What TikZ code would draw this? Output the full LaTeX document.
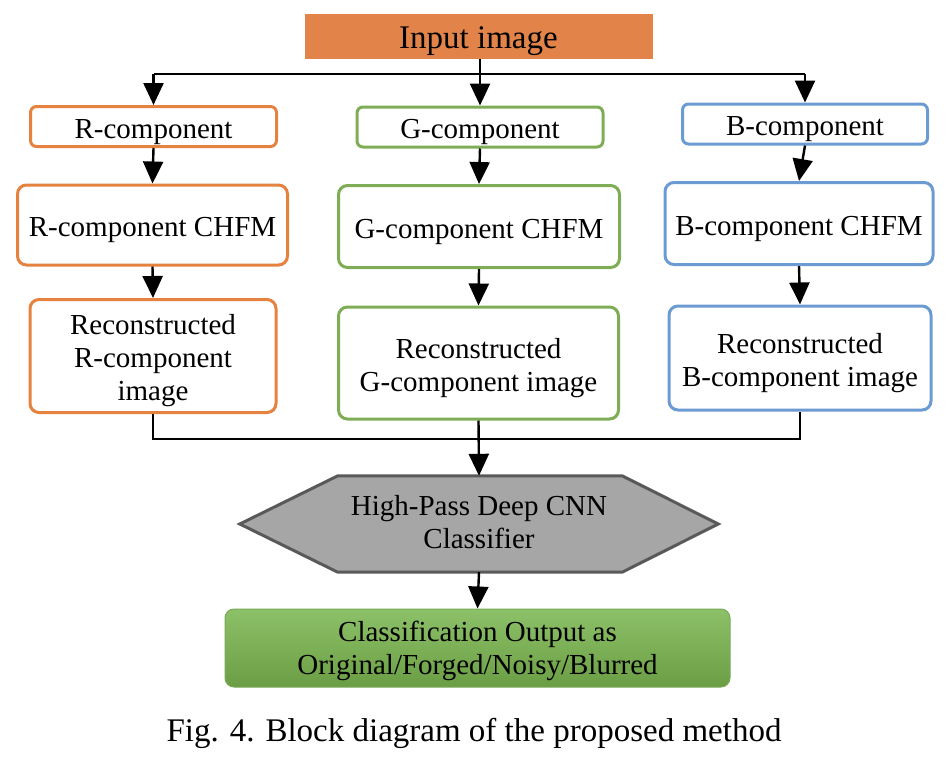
\documentclass[tikz,border=0pt]{standalone}
\usepackage{fontspec}
\setmainfont{Liberation Serif}
\usetikzlibrary{arrows.meta}
\definecolor{inorange}{HTML}{E2844A}
\definecolor{rcol}{HTML}{E5823F}
\definecolor{gcol}{HTML}{7EAD56}
\definecolor{bcol}{HTML}{6B9BD2}
\definecolor{hexfill}{HTML}{A6A6A6}
\definecolor{hexdraw}{HTML}{595959}
\definecolor{outtop}{HTML}{8DC169}
\definecolor{outbot}{HTML}{6B9E44}
\definecolor{outdraw}{HTML}{7AAA55}
\newcommand{\lowr}[2][5pt]{\raisebox{-#1}[\height][\depth]{\begin{tabular}{@{}c@{}}#2\end{tabular}}}
\tikzset{
  txt/.style={font=\fontsize{29}{33}\selectfont, align=center, inner sep=0pt},
  cbox/.style={txt, draw=#1, line width=3pt, fill=white, rounded corners=9pt},
  sbox/.style={txt, draw=#1, line width=3pt, fill=white, rounded corners=6pt},
  conn/.style={line width=2.4pt, black},
  arr/.style={conn, -{Triangle[width=20pt,length=22pt]}},
}
\begin{document}
\begin{tikzpicture}[x=1pt,y=-1pt]
\useasboundingbox (0,0) rectangle (952,774);
% input
\node[txt, fill=inorange, minimum width=348pt, minimum height=45pt, font=\fontsize{33}{36}\selectfont] (in) at (478.5,36) {\lowr[5pt]{Input image}};
% components
\node[sbox=rcol, minimum width=246pt, minimum height=40pt] (rc) at (153.5,126.5) {\lowr{R-component}};
\node[sbox=gcol, minimum width=246pt, minimum height=40pt] (gc) at (480,127) {\lowr{G-component}};
\node[sbox=bcol, minimum width=245pt, minimum height=40pt] (bc) at (805,124) {\lowr{B-component}};
% CHFM
\node[cbox=rcol, minimum width=270pt, minimum height=80pt] (rch) at (152.5,225) {\lowr{R-component CHFM}};
\node[cbox=gcol, minimum width=281pt, minimum height=82pt] (gch) at (479,226.5) {\lowr{G-component CHFM}};
\node[cbox=bcol, minimum width=268pt, minimum height=82pt] (bch) at (799,223.5) {\lowr{B-component CHFM}};
% reconstructed
\node[cbox=rcol, minimum width=246pt, minimum height=113pt] (rrec) at (153,356) {\lowr{Reconstructed\\R-component\\image}};
\node[cbox=gcol, minimum width=280pt, minimum height=112pt] (grec) at (478.5,363) {\lowr{Reconstructed\\G-component image}};
\node[cbox=bcol, minimum width=262pt, minimum height=104pt] (brec) at (800,358) {\lowr{Reconstructed\\B-component image}};
% hexagon
\node[txt, minimum width=478pt, minimum height=96pt] (hex) at (479,524) {};
\draw[fill=hexfill, draw=hexdraw, line width=3pt, line join=miter]
  (hex.west) -- ([xshift=98pt]hex.north west) -- ([xshift=-96pt]hex.north east)
  -- (hex.east) -- ([xshift=-96pt]hex.south east) -- ([xshift=98pt]hex.south west) -- cycle;
\node[txt] (hextxt) at (hex.center) {\lowr[1pt]{High-Pass Deep CNN\\Classifier}};
% output
\node[txt, draw=outdraw, line width=1pt, rounded corners=9pt, top color=outtop, bottom color=outbot,
  minimum width=505pt, minimum height=78pt] (out) at (477.5,648) {\lowr[3pt]{Classification Output as\\Original/Forged/Noisy/Blurred}};
% caption
\node[txt, font=\fontsize{33}{36}\selectfont] (cap) at (474,733) {Fig. 4. Block diagram of the proposed method};
% connectors top
\coordinate (j1) at (480,74);
\draw[conn] (in.south -| j1) -- (j1);
\draw[conn] (j1 -| rc.north) -- (j1 -| bc.north);
\draw[arr] (j1 -| rc.north) -- (rc.north);
\draw[arr] (j1) -- (gc.north);
\draw[arr] (j1 -| bc.north) -- (bc.north);
\draw[arr] (rc.south) -- (rch.north);
\draw[arr] (gc.south) -- (gch.north);
\draw[arr] (bc.south) -- (bch.north);
\draw[arr] (rch.south) -- (rrec.north);
\draw[arr] (gch.south) -- (grec.north);
\draw[arr] (bch.south) -- (brec.north);
% connectors bottom
\coordinate (j2) at (478,439);
\draw[conn] (rrec.south) -- (rrec.south |- j2) -- (brec.south |- j2) -- (brec.south);
\draw[arr] (grec.south) -- (hex.north);
\draw[arr] (hex.south) -- (out.north);
\end{tikzpicture}
\end{document}
